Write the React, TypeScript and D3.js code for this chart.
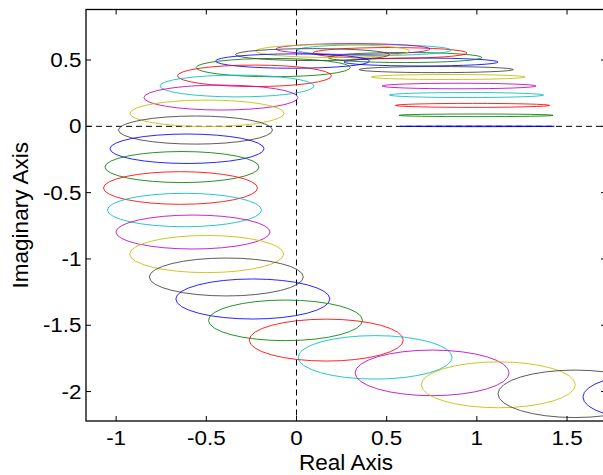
import React from "react";
import * as d3 from "d3";

const width = 603;
const height = 475;
// plot box in page pixels (right edge falls just outside the picture)
const box = { left: 86, right: 606, top: 9.5, bottom: 421 };

const xTicks = [-1, -0.5, 0, 0.5, 1, 1.5];
const yTicks = [-2, -1.5, -1, -0.5, 0, 0.5];

// centre of each ellipse, in the order they were plotted
const centreRe = [
  1.002, 0.995, 0.976, 0.943, 0.901, 0.841, 0.775,
  0.69, 0.601, 0.518, 0.43, 0.313, 0.2, 0.089,
  -0.022, -0.129, -0.233, -0.33, -0.419, -0.496, -0.56,
  -0.607, -0.635, -0.643, -0.621, -0.574, -0.498, -0.389,
  -0.242, -0.061, 0.165, 0.436, 0.752, 1.119, 1.544,
  2.015,
];
const centreIm = [
  0, 0.083, 0.158, 0.236, 0.304, 0.372, 0.428,
  0.485, 0.519, 0.553, 0.575, 0.583, 0.568, 0.541,
  0.492, 0.443, 0.381, 0.304, 0.217, 0.098, -0.028,
  -0.169, -0.307, -0.465, -0.631, -0.797, -0.963, -1.136,
  -1.302, -1.463, -1.612, -1.742, -1.859, -1.949, -2.017,
  -2.041,
];
// half height of each ellipse (imaginary direction)
const spreadIm = [
  0.002, 0.01, 0.015, 0.019, 0.021, 0.019, 0.023,
  0.03, 0.038, 0.041, 0.041, 0.041, 0.049, 0.045,
  0.054, 0.069, 0.081, 0.082, 0.094, 0.1, 0.106,
  0.111, 0.117, 0.123, 0.126, 0.128, 0.14, 0.143,
  0.151, 0.153, 0.158, 0.164, 0.172, 0.173, 0.179,
  0.181,
];
// half width is the same for all of them
const spreadRe = 0.427;

// old matlab colour order
const colorOrder = ["#0000ff", "#008000", "#ff0000", "#00bfbf", "#bf00bf", "#bfbf00", "#404040"];

const tickFont = "'Liberation Sans', Arial, sans-serif";

const App = () => {
  const x = d3.scaleLinear().domain([-1.167, 1.716]).range([box.left, box.right]);
  const y = d3.scaleLinear().domain([-2.222, 0.881]).range([box.bottom, box.top]);
  const tickLen = 5;

  return (
    <svg
      width={width}
      height={height}
      style={{ position: "absolute", left: 0, top: 0, background: "#fff" }}
    >
      <defs>
        <clipPath id="plotArea">
          <rect x={box.left} y={box.top} width={box.right - box.left} height={box.bottom - box.top} />
        </clipPath>
      </defs>

      <g clipPath="url(#plotArea)">
        {/* zero lines */}
        <line x1={x(0)} x2={x(0)} y1={box.top} y2={box.bottom} stroke="#000" strokeDasharray="6,4" strokeWidth={1} />
        <line x1={box.left} x2={box.right} y1={y(0)} y2={y(0)} stroke="#000" strokeDasharray="6,4" strokeWidth={1} />

        {centreRe.map((re, i) => (
          <ellipse
            key={i}
            cx={x(re)}
            cy={y(centreIm[i])}
            rx={x(spreadRe) - x(0)}
            ry={Math.max(y(0) - y(spreadIm[i]), 0.3)}
            fill="none"
            stroke={colorOrder[i % colorOrder.length]}
            strokeWidth={1}
            strokeOpacity={0.85}
          />
        ))}
      </g>

      {/* axes box */}
      <rect
        x={box.left}
        y={box.top}
        width={box.right - box.left}
        height={box.bottom - box.top}
        fill="none"
        stroke="#000"
        strokeWidth={1.3}
      />

      {xTicks.map((t) => (
        <g key={"x" + t}>
          <line x1={x(t)} x2={x(t)} y1={box.bottom} y2={box.bottom - tickLen} stroke="#000" />
          <line x1={x(t)} x2={x(t)} y1={box.top} y2={box.top + tickLen} stroke="#000" />
          <text
            transform={`translate(${x(t)},444.5) scale(1.15,1)`}
            textAnchor="middle"
            fontFamily={tickFont}
            fontSize={19.5}
          >
            {String(t)}
          </text>
        </g>
      ))}

      {yTicks.map((t) => (
        <g key={"y" + t}>
          <line x1={box.left} x2={box.left + tickLen} y1={y(t)} y2={y(t)} stroke="#000" />
          <line x1={box.right} x2={box.right - tickLen} y1={y(t)} y2={y(t)} stroke="#000" />
          <text
            transform={`translate(81.5,${y(t) + 7}) scale(1.15,1)`}
            textAnchor="end"
            fontFamily={tickFont}
            fontSize={19.5}
          >
            {String(t)}
          </text>
        </g>
      ))}

      <text
        x={(box.left + box.right) / 2}
        y={470}
        textAnchor="middle"
        fontFamily={tickFont}
        fontSize={22.5}
      >
        Real Axis
      </text>
      <text
        transform={`translate(28,${(box.top + box.bottom) / 2}) rotate(-90)`}
        textAnchor="middle"
        fontFamily={tickFont}
        fontSize={22.5}
      >
        Imaginary Axis
      </text>
    </svg>
  );
};

export default App;
